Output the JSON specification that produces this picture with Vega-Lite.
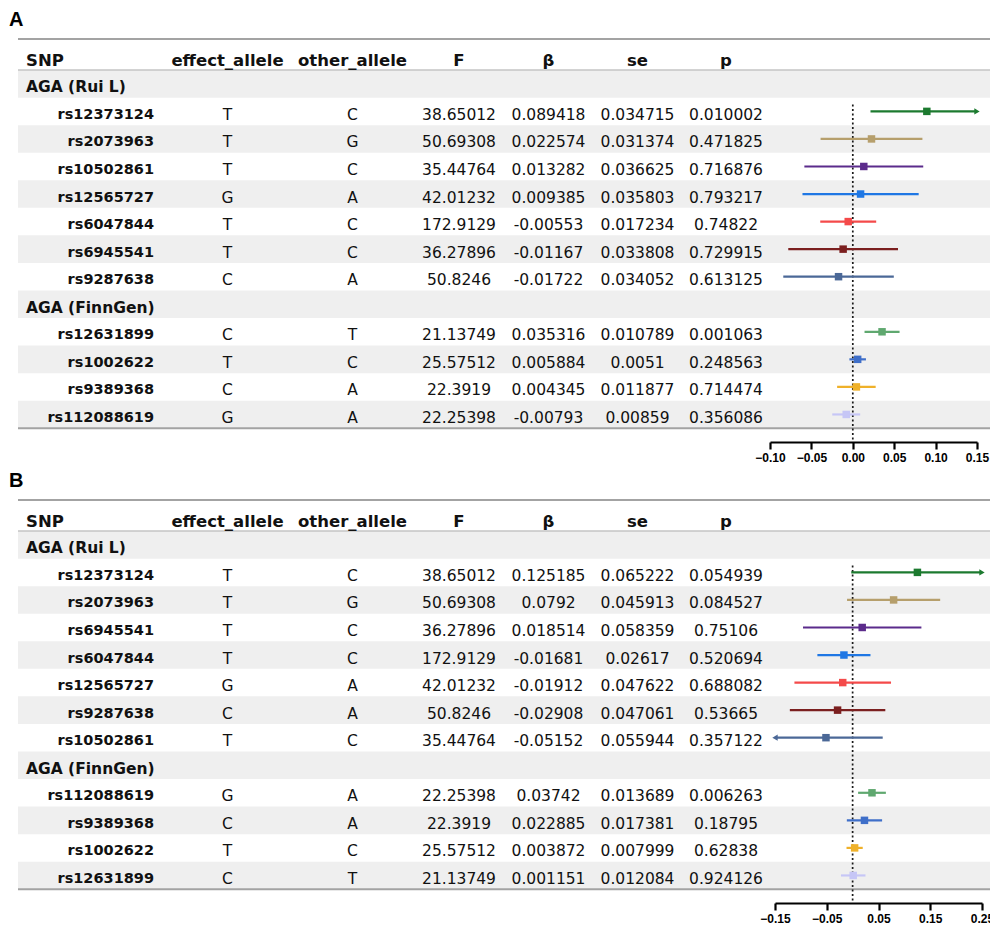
{
  "$schema": "https://vega.github.io/schema/vega-lite/v6.json",
  "background": "white",
  "padding": {"left": 9, "top": 10, "right": 0, "bottom": 0},
  "spacing": 8,
  "datasets": {
    "A": [
      {"row": 1, "group": "AGA (Rui L)"},
      {"row": 2, "SNP": "rs12373124", "effect_allele": "T", "other_allele": "C", "F": 38.65012, "beta": 0.089418, "se": 0.034715, "p": 0.010002, "lo": 0.021377, "hi": 0.157459},
      {"row": 3, "SNP": "rs2073963", "effect_allele": "T", "other_allele": "G", "F": 50.69308, "beta": 0.022574, "se": 0.031374, "p": 0.471825, "lo": -0.038919, "hi": 0.084067},
      {"row": 4, "SNP": "rs10502861", "effect_allele": "T", "other_allele": "C", "F": 35.44764, "beta": 0.013282, "se": 0.036625, "p": 0.716876, "lo": -0.058503, "hi": 0.085067},
      {"row": 5, "SNP": "rs12565727", "effect_allele": "G", "other_allele": "A", "F": 42.01232, "beta": 0.009385, "se": 0.035803, "p": 0.793217, "lo": -0.060789, "hi": 0.079559},
      {"row": 6, "SNP": "rs6047844", "effect_allele": "T", "other_allele": "C", "F": 172.9129, "beta": -0.00553, "se": 0.017234, "p": 0.74822, "lo": -0.039309, "hi": 0.028249},
      {"row": 7, "SNP": "rs6945541", "effect_allele": "T", "other_allele": "C", "F": 36.27896, "beta": -0.01167, "se": 0.033808, "p": 0.729915, "lo": -0.077934, "hi": 0.054594},
      {"row": 8, "SNP": "rs9287638", "effect_allele": "C", "other_allele": "A", "F": 50.8246, "beta": -0.01722, "se": 0.034052, "p": 0.613125, "lo": -0.083962, "hi": 0.049522},
      {"row": 9, "group": "AGA (FinnGen)"},
      {"row": 10, "SNP": "rs12631899", "effect_allele": "C", "other_allele": "T", "F": 21.13749, "beta": 0.035316, "se": 0.010789, "p": 0.001063, "lo": 0.01417, "hi": 0.056462},
      {"row": 11, "SNP": "rs1002622", "effect_allele": "T", "other_allele": "C", "F": 25.57512, "beta": 0.005884, "se": 0.0051, "p": 0.248563, "lo": -0.004112, "hi": 0.01588},
      {"row": 12, "SNP": "rs9389368", "effect_allele": "C", "other_allele": "A", "F": 22.3919, "beta": 0.004345, "se": 0.011877, "p": 0.714474, "lo": -0.018934, "hi": 0.027624},
      {"row": 13, "SNP": "rs112088619", "effect_allele": "G", "other_allele": "A", "F": 22.25398, "beta": -0.00793, "se": 0.00859, "p": 0.356086, "lo": -0.024766, "hi": 0.008906}
    ],
    "B": [
      {"row": 1, "group": "AGA (Rui L)"},
      {"row": 2, "SNP": "rs12373124", "effect_allele": "T", "other_allele": "C", "F": 38.65012, "beta": 0.125185, "se": 0.065222, "p": 0.054939, "lo": -0.00265, "hi": 0.25302},
      {"row": 3, "SNP": "rs2073963", "effect_allele": "T", "other_allele": "G", "F": 50.69308, "beta": 0.0792, "se": 0.045913, "p": 0.084527, "lo": -0.01079, "hi": 0.16919},
      {"row": 4, "SNP": "rs6945541", "effect_allele": "T", "other_allele": "C", "F": 36.27896, "beta": 0.018514, "se": 0.058359, "p": 0.75106, "lo": -0.09587, "hi": 0.132898},
      {"row": 5, "SNP": "rs6047844", "effect_allele": "T", "other_allele": "C", "F": 172.9129, "beta": -0.01681, "se": 0.02617, "p": 0.520694, "lo": -0.068103, "hi": 0.034483},
      {"row": 6, "SNP": "rs12565727", "effect_allele": "G", "other_allele": "A", "F": 42.01232, "beta": -0.01912, "se": 0.047622, "p": 0.688082, "lo": -0.112459, "hi": 0.074219},
      {"row": 7, "SNP": "rs9287638", "effect_allele": "C", "other_allele": "A", "F": 50.8246, "beta": -0.02908, "se": 0.047061, "p": 0.53665, "lo": -0.12132, "hi": 0.06316},
      {"row": 8, "SNP": "rs10502861", "effect_allele": "T", "other_allele": "C", "F": 35.44764, "beta": -0.05152, "se": 0.055944, "p": 0.357122, "lo": -0.16117, "hi": 0.05813},
      {"row": 9, "group": "AGA (FinnGen)"},
      {"row": 10, "SNP": "rs112088619", "effect_allele": "G", "other_allele": "A", "F": 22.25398, "beta": 0.03742, "se": 0.013689, "p": 0.006263, "lo": 0.01059, "hi": 0.06425},
      {"row": 11, "SNP": "rs9389368", "effect_allele": "C", "other_allele": "A", "F": 22.3919, "beta": 0.022885, "se": 0.017381, "p": 0.18795, "lo": -0.011182, "hi": 0.056952},
      {"row": 12, "SNP": "rs1002622", "effect_allele": "T", "other_allele": "C", "F": 25.57512, "beta": 0.003872, "se": 0.007999, "p": 0.62838, "lo": -0.011806, "hi": 0.01955},
      {"row": 13, "SNP": "rs12631899", "effect_allele": "C", "other_allele": "T", "F": 21.13749, "beta": 0.001151, "se": 0.012084, "p": 0.924126, "lo": -0.022534, "hi": 0.024836}
    ]
  },
  "vconcat": [
    {
      "title": {"text": "A", "anchor": "start", "fontSize": 20, "fontWeight": "bold", "dx": -8, "offset": 8, "color": "#000"},
      "spacing": 0,
      "bounds": "flush",
      "hconcat": [
        {"width": 146, "height": 403, "data": {"name": "A"}, "layer": [
          {"transform": [{"filter": "datum.row % 2 == 1"}], "mark": {"type": "rect", "color": "#efefef", "height": 27.6}, "encoding": {"y": {"field": "row", "type": "quantitative", "scale": {"domain": [-0.627, 14], "reverse": true, "nice": false, "zero": false}, "axis": null}}},
          {"data": {"values": [{}]}, "mark": {"type": "rule", "color": "#a3a3a3", "strokeWidth": 2}, "encoding": {"y": {"datum": -0.627, "type": "quantitative", "axis": null}}},
          {"data": {"values": [{}]}, "mark": {"type": "rule", "color": "#c4c4c4", "strokeWidth": 1.5}, "encoding": {"y": {"datum": 0.5, "type": "quantitative", "axis": null}}},
          {"data": {"values": [{}]}, "mark": {"type": "rule", "color": "#a3a3a3", "strokeWidth": 2}, "encoding": {"y": {"datum": 13.5, "type": "quantitative", "axis": null}}},
          {"data": {"values": [{"h": "SNP"}]}, "mark": {"type": "text", "align": "left", "dx": 8, "dy": 3.5, "fontWeight": "bold", "fontSize": 16.5}, "encoding": {"x": {"value": 0}, "y": {"datum": 0.05, "type": "quantitative", "axis": null}, "text": {"field": "h", "type": "nominal"}}},
          {"transform": [{"filter": "isValid(datum.group)"}], "mark": {"type": "text", "align": "left", "dx": 8, "dy": 3.5, "fontWeight": "bold", "fontSize": 15.5}, "encoding": {"x": {"value": 0}, "y": {"field": "row", "type": "quantitative", "axis": null}, "text": {"field": "group", "type": "nominal"}}},
          {"transform": [{"filter": "isValid(datum.SNP)"}], "mark": {"type": "text", "align": "right", "dx": -10, "dy": 3.5, "fontWeight": "bold", "fontSize": 14.5}, "encoding": {"x": {"value": "width"}, "y": {"field": "row", "type": "quantitative", "axis": null}, "text": {"field": "SNP", "type": "nominal"}}}
        ]},
        {"width": 127, "height": 403, "data": {"name": "A"}, "layer": [
          {"transform": [{"filter": "datum.row % 2 == 1"}], "mark": {"type": "rect", "color": "#efefef", "height": 27.6}, "encoding": {"y": {"field": "row", "type": "quantitative", "scale": {"domain": [-0.627, 14], "reverse": true, "nice": false, "zero": false}, "axis": null}}},
          {"data": {"values": [{}]}, "mark": {"type": "rule", "color": "#a3a3a3", "strokeWidth": 2}, "encoding": {"y": {"datum": -0.627, "type": "quantitative", "axis": null}}},
          {"data": {"values": [{}]}, "mark": {"type": "rule", "color": "#c4c4c4", "strokeWidth": 1.5}, "encoding": {"y": {"datum": 0.5, "type": "quantitative", "axis": null}}},
          {"data": {"values": [{}]}, "mark": {"type": "rule", "color": "#a3a3a3", "strokeWidth": 2}, "encoding": {"y": {"datum": 13.5, "type": "quantitative", "axis": null}}},
          {"data": {"values": [{"h": "effect_allele"}]}, "mark": {"type": "text", "dy": 3.5, "fontWeight": "bold", "fontSize": 16.5}, "encoding": {"y": {"datum": 0.05, "type": "quantitative", "axis": null}, "text": {"field": "h", "type": "nominal"}}},
          {"transform": [{"filter": "isValid(datum.SNP)"}], "mark": {"type": "text", "dy": 3.5, "fontSize": 15.5}, "encoding": {"y": {"field": "row", "type": "quantitative", "axis": null}, "text": {"field": "effect_allele", "type": "nominal"}}}
        ]},
        {"width": 123, "height": 403, "data": {"name": "A"}, "layer": [
          {"transform": [{"filter": "datum.row % 2 == 1"}], "mark": {"type": "rect", "color": "#efefef", "height": 27.6}, "encoding": {"y": {"field": "row", "type": "quantitative", "scale": {"domain": [-0.627, 14], "reverse": true, "nice": false, "zero": false}, "axis": null}}},
          {"data": {"values": [{}]}, "mark": {"type": "rule", "color": "#a3a3a3", "strokeWidth": 2}, "encoding": {"y": {"datum": -0.627, "type": "quantitative", "axis": null}}},
          {"data": {"values": [{}]}, "mark": {"type": "rule", "color": "#c4c4c4", "strokeWidth": 1.5}, "encoding": {"y": {"datum": 0.5, "type": "quantitative", "axis": null}}},
          {"data": {"values": [{}]}, "mark": {"type": "rule", "color": "#a3a3a3", "strokeWidth": 2}, "encoding": {"y": {"datum": 13.5, "type": "quantitative", "axis": null}}},
          {"data": {"values": [{"h": "other_allele"}]}, "mark": {"type": "text", "dy": 3.5, "fontWeight": "bold", "fontSize": 16.5}, "encoding": {"y": {"datum": 0.05, "type": "quantitative", "axis": null}, "text": {"field": "h", "type": "nominal"}}},
          {"transform": [{"filter": "isValid(datum.SNP)"}], "mark": {"type": "text", "dy": 3.5, "fontSize": 15.5}, "encoding": {"y": {"field": "row", "type": "quantitative", "axis": null}, "text": {"field": "other_allele", "type": "nominal"}}}
        ]},
        {"width": 90, "height": 403, "data": {"name": "A"}, "layer": [
          {"transform": [{"filter": "datum.row % 2 == 1"}], "mark": {"type": "rect", "color": "#efefef", "height": 27.6}, "encoding": {"y": {"field": "row", "type": "quantitative", "scale": {"domain": [-0.627, 14], "reverse": true, "nice": false, "zero": false}, "axis": null}}},
          {"data": {"values": [{}]}, "mark": {"type": "rule", "color": "#a3a3a3", "strokeWidth": 2}, "encoding": {"y": {"datum": -0.627, "type": "quantitative", "axis": null}}},
          {"data": {"values": [{}]}, "mark": {"type": "rule", "color": "#c4c4c4", "strokeWidth": 1.5}, "encoding": {"y": {"datum": 0.5, "type": "quantitative", "axis": null}}},
          {"data": {"values": [{}]}, "mark": {"type": "rule", "color": "#a3a3a3", "strokeWidth": 2}, "encoding": {"y": {"datum": 13.5, "type": "quantitative", "axis": null}}},
          {"data": {"values": [{"h": "F"}]}, "mark": {"type": "text", "dy": 3.5, "fontWeight": "bold", "fontSize": 16.5}, "encoding": {"y": {"datum": 0.05, "type": "quantitative", "axis": null}, "text": {"field": "h", "type": "nominal"}}},
          {"transform": [{"filter": "isValid(datum.SNP)"}], "mark": {"type": "text", "dy": 3.5, "fontSize": 15.5}, "encoding": {"y": {"field": "row", "type": "quantitative", "axis": null}, "text": {"field": "F", "type": "nominal"}}}
        ]},
        {"width": 89, "height": 403, "data": {"name": "A"}, "layer": [
          {"transform": [{"filter": "datum.row % 2 == 1"}], "mark": {"type": "rect", "color": "#efefef", "height": 27.6}, "encoding": {"y": {"field": "row", "type": "quantitative", "scale": {"domain": [-0.627, 14], "reverse": true, "nice": false, "zero": false}, "axis": null}}},
          {"data": {"values": [{}]}, "mark": {"type": "rule", "color": "#a3a3a3", "strokeWidth": 2}, "encoding": {"y": {"datum": -0.627, "type": "quantitative", "axis": null}}},
          {"data": {"values": [{}]}, "mark": {"type": "rule", "color": "#c4c4c4", "strokeWidth": 1.5}, "encoding": {"y": {"datum": 0.5, "type": "quantitative", "axis": null}}},
          {"data": {"values": [{}]}, "mark": {"type": "rule", "color": "#a3a3a3", "strokeWidth": 2}, "encoding": {"y": {"datum": 13.5, "type": "quantitative", "axis": null}}},
          {"data": {"values": [{"h": "β"}]}, "mark": {"type": "text", "dy": 3.5, "fontWeight": "bold", "fontSize": 16.5}, "encoding": {"y": {"datum": 0.05, "type": "quantitative", "axis": null}, "text": {"field": "h", "type": "nominal"}}},
          {"transform": [{"filter": "isValid(datum.SNP)"}], "mark": {"type": "text", "dy": 3.5, "fontSize": 15.5}, "encoding": {"y": {"field": "row", "type": "quantitative", "axis": null}, "text": {"field": "beta", "type": "nominal"}}}
        ]},
        {"width": 89, "height": 403, "data": {"name": "A"}, "layer": [
          {"transform": [{"filter": "datum.row % 2 == 1"}], "mark": {"type": "rect", "color": "#efefef", "height": 27.6}, "encoding": {"y": {"field": "row", "type": "quantitative", "scale": {"domain": [-0.627, 14], "reverse": true, "nice": false, "zero": false}, "axis": null}}},
          {"data": {"values": [{}]}, "mark": {"type": "rule", "color": "#a3a3a3", "strokeWidth": 2}, "encoding": {"y": {"datum": -0.627, "type": "quantitative", "axis": null}}},
          {"data": {"values": [{}]}, "mark": {"type": "rule", "color": "#c4c4c4", "strokeWidth": 1.5}, "encoding": {"y": {"datum": 0.5, "type": "quantitative", "axis": null}}},
          {"data": {"values": [{}]}, "mark": {"type": "rule", "color": "#a3a3a3", "strokeWidth": 2}, "encoding": {"y": {"datum": 13.5, "type": "quantitative", "axis": null}}},
          {"data": {"values": [{"h": "se"}]}, "mark": {"type": "text", "dy": 3.5, "fontWeight": "bold", "fontSize": 16.5}, "encoding": {"y": {"datum": 0.05, "type": "quantitative", "axis": null}, "text": {"field": "h", "type": "nominal"}}},
          {"transform": [{"filter": "isValid(datum.SNP)"}], "mark": {"type": "text", "dy": 3.5, "fontSize": 15.5}, "encoding": {"y": {"field": "row", "type": "quantitative", "axis": null}, "text": {"field": "se", "type": "nominal"}}}
        ]},
        {"width": 88, "height": 403, "data": {"name": "A"}, "layer": [
          {"transform": [{"filter": "datum.row % 2 == 1"}], "mark": {"type": "rect", "color": "#efefef", "height": 27.6}, "encoding": {"y": {"field": "row", "type": "quantitative", "scale": {"domain": [-0.627, 14], "reverse": true, "nice": false, "zero": false}, "axis": null}}},
          {"data": {"values": [{}]}, "mark": {"type": "rule", "color": "#a3a3a3", "strokeWidth": 2}, "encoding": {"y": {"datum": -0.627, "type": "quantitative", "axis": null}}},
          {"data": {"values": [{}]}, "mark": {"type": "rule", "color": "#c4c4c4", "strokeWidth": 1.5}, "encoding": {"y": {"datum": 0.5, "type": "quantitative", "axis": null}}},
          {"data": {"values": [{}]}, "mark": {"type": "rule", "color": "#a3a3a3", "strokeWidth": 2}, "encoding": {"y": {"datum": 13.5, "type": "quantitative", "axis": null}}},
          {"data": {"values": [{"h": "p"}]}, "mark": {"type": "text", "dy": 3.5, "fontWeight": "bold", "fontSize": 16.5}, "encoding": {"y": {"datum": 0.05, "type": "quantitative", "axis": null}, "text": {"field": "h", "type": "nominal"}}},
          {"transform": [{"filter": "isValid(datum.SNP)"}], "mark": {"type": "text", "dy": 3.5, "fontSize": 15.5}, "encoding": {"y": {"field": "row", "type": "quantitative", "axis": null}, "text": {"field": "p", "type": "nominal"}}}
        ]},
        {"width": 221, "height": 403, "data": {"name": "A"}, "layer": [
          {"transform": [{"filter": "datum.row % 2 == 1"}], "mark": {"type": "rect", "color": "#efefef", "height": 27.6}, "encoding": {"y": {"field": "row", "type": "quantitative", "scale": {"domain": [-0.627, 14], "reverse": true, "nice": false, "zero": false}, "axis": null}}},
          {"data": {"values": [{}]}, "mark": {"type": "rule", "color": "#a3a3a3", "strokeWidth": 2}, "encoding": {"y": {"datum": -0.627, "type": "quantitative", "axis": null}}},
          {"data": {"values": [{}]}, "mark": {"type": "rule", "color": "#c4c4c4", "strokeWidth": 1.5}, "encoding": {"y": {"datum": 0.5, "type": "quantitative", "axis": null}}},
          {"data": {"values": [{}]}, "mark": {"type": "rule", "color": "#a3a3a3", "strokeWidth": 2}, "encoding": {"y": {"datum": 13.5, "type": "quantitative", "axis": null}}},
          {"data": {"values": [{}]}, "mark": {"type": "rule", "color": "#1a1a1a", "strokeWidth": 1.7, "strokeDash": [2, 2.5]}, "encoding": {
            "x": {"datum": 0, "type": "quantitative", "scale": {"domain": [-0.1, 0.15], "range": [0, 207], "clamp": true, "nice": false, "zero": false},
                  "axis": {"values": [-0.1, -0.05, 0, 0.05, 0.1, 0.15], "format": ".2f", "title": null, "grid": false, "domainColor": "#000", "domainWidth": 2.2, "tickColor": "#000", "tickWidth": 2.2, "tickSize": 7, "labelFont": "Liberation Sans", "labelFontWeight": "bold", "labelFontSize": 12, "labelColor": "#000", "labelFlush": false, "labelPadding": 3, "labelOverlap": false}},
            "y": {"datum": 1.75, "type": "quantitative", "axis": null}, "y2": {"datum": 14}}},
          {"transform": [{"filter": "isValid(datum.SNP)"}], "mark": {"type": "rule", "strokeWidth": 2.2}, "encoding": {
            "x": {"field": "lo", "type": "quantitative", "title": null}, "x2": {"field": "hi"},
            "y": {"field": "row", "type": "quantitative", "axis": null},
            "color": {"field": "row", "type": "ordinal", "legend": null, "scale": {"domain": [2, 3, 4, 5, 6, 7, 8, 10, 11, 12, 13], "range": ["#1c7a2f", "#b69f6c", "#5b2b8b", "#1f77e4", "#f44a4a", "#7b1f1f", "#4b6897", "#5fa86f", "#3f6fc9", "#efb12a", "#c6c6f6"]}}}},
          {"transform": [{"filter": "isValid(datum.SNP)"}], "mark": {"type": "point", "shape": "square", "filled": true, "size": 56, "opacity": 1}, "encoding": {
            "x": {"field": "beta", "type": "quantitative", "title": null},
            "y": {"field": "row", "type": "quantitative", "axis": null},
            "color": {"field": "row", "type": "ordinal", "legend": null}}},
          {"transform": [{"filter": "datum.hi > 0.15"}], "mark": {"type": "point", "shape": "triangle-right", "filled": true, "size": 38, "opacity": 1}, "encoding": {
            "x": {"field": "hi", "type": "quantitative", "title": null},
            "y": {"field": "row", "type": "quantitative", "axis": null},
            "color": {"field": "row", "type": "ordinal", "legend": null}}}
        ]}
      ]
    },
    {
      "title": {"text": "B", "anchor": "start", "fontSize": 20, "fontWeight": "bold", "dx": -8, "offset": 8, "color": "#000"},
      "spacing": 0,
      "bounds": "flush",
      "hconcat": [
        {"width": 146, "height": 403, "data": {"name": "B"}, "layer": [
          {"transform": [{"filter": "datum.row % 2 == 1"}], "mark": {"type": "rect", "color": "#efefef", "height": 27.6}, "encoding": {"y": {"field": "row", "type": "quantitative", "scale": {"domain": [-0.627, 14], "reverse": true, "nice": false, "zero": false}, "axis": null}}},
          {"data": {"values": [{}]}, "mark": {"type": "rule", "color": "#a3a3a3", "strokeWidth": 2}, "encoding": {"y": {"datum": -0.627, "type": "quantitative", "axis": null}}},
          {"data": {"values": [{}]}, "mark": {"type": "rule", "color": "#c4c4c4", "strokeWidth": 1.5}, "encoding": {"y": {"datum": 0.5, "type": "quantitative", "axis": null}}},
          {"data": {"values": [{}]}, "mark": {"type": "rule", "color": "#a3a3a3", "strokeWidth": 2}, "encoding": {"y": {"datum": 13.5, "type": "quantitative", "axis": null}}},
          {"data": {"values": [{"h": "SNP"}]}, "mark": {"type": "text", "align": "left", "dx": 8, "dy": 3.5, "fontWeight": "bold", "fontSize": 16.5}, "encoding": {"x": {"value": 0}, "y": {"datum": 0.05, "type": "quantitative", "axis": null}, "text": {"field": "h", "type": "nominal"}}},
          {"transform": [{"filter": "isValid(datum.group)"}], "mark": {"type": "text", "align": "left", "dx": 8, "dy": 3.5, "fontWeight": "bold", "fontSize": 15.5}, "encoding": {"x": {"value": 0}, "y": {"field": "row", "type": "quantitative", "axis": null}, "text": {"field": "group", "type": "nominal"}}},
          {"transform": [{"filter": "isValid(datum.SNP)"}], "mark": {"type": "text", "align": "right", "dx": -10, "dy": 3.5, "fontWeight": "bold", "fontSize": 14.5}, "encoding": {"x": {"value": "width"}, "y": {"field": "row", "type": "quantitative", "axis": null}, "text": {"field": "SNP", "type": "nominal"}}}
        ]},
        {"width": 127, "height": 403, "data": {"name": "B"}, "layer": [
          {"transform": [{"filter": "datum.row % 2 == 1"}], "mark": {"type": "rect", "color": "#efefef", "height": 27.6}, "encoding": {"y": {"field": "row", "type": "quantitative", "scale": {"domain": [-0.627, 14], "reverse": true, "nice": false, "zero": false}, "axis": null}}},
          {"data": {"values": [{}]}, "mark": {"type": "rule", "color": "#a3a3a3", "strokeWidth": 2}, "encoding": {"y": {"datum": -0.627, "type": "quantitative", "axis": null}}},
          {"data": {"values": [{}]}, "mark": {"type": "rule", "color": "#c4c4c4", "strokeWidth": 1.5}, "encoding": {"y": {"datum": 0.5, "type": "quantitative", "axis": null}}},
          {"data": {"values": [{}]}, "mark": {"type": "rule", "color": "#a3a3a3", "strokeWidth": 2}, "encoding": {"y": {"datum": 13.5, "type": "quantitative", "axis": null}}},
          {"data": {"values": [{"h": "effect_allele"}]}, "mark": {"type": "text", "dy": 3.5, "fontWeight": "bold", "fontSize": 16.5}, "encoding": {"y": {"datum": 0.05, "type": "quantitative", "axis": null}, "text": {"field": "h", "type": "nominal"}}},
          {"transform": [{"filter": "isValid(datum.SNP)"}], "mark": {"type": "text", "dy": 3.5, "fontSize": 15.5}, "encoding": {"y": {"field": "row", "type": "quantitative", "axis": null}, "text": {"field": "effect_allele", "type": "nominal"}}}
        ]},
        {"width": 123, "height": 403, "data": {"name": "B"}, "layer": [
          {"transform": [{"filter": "datum.row % 2 == 1"}], "mark": {"type": "rect", "color": "#efefef", "height": 27.6}, "encoding": {"y": {"field": "row", "type": "quantitative", "scale": {"domain": [-0.627, 14], "reverse": true, "nice": false, "zero": false}, "axis": null}}},
          {"data": {"values": [{}]}, "mark": {"type": "rule", "color": "#a3a3a3", "strokeWidth": 2}, "encoding": {"y": {"datum": -0.627, "type": "quantitative", "axis": null}}},
          {"data": {"values": [{}]}, "mark": {"type": "rule", "color": "#c4c4c4", "strokeWidth": 1.5}, "encoding": {"y": {"datum": 0.5, "type": "quantitative", "axis": null}}},
          {"data": {"values": [{}]}, "mark": {"type": "rule", "color": "#a3a3a3", "strokeWidth": 2}, "encoding": {"y": {"datum": 13.5, "type": "quantitative", "axis": null}}},
          {"data": {"values": [{"h": "other_allele"}]}, "mark": {"type": "text", "dy": 3.5, "fontWeight": "bold", "fontSize": 16.5}, "encoding": {"y": {"datum": 0.05, "type": "quantitative", "axis": null}, "text": {"field": "h", "type": "nominal"}}},
          {"transform": [{"filter": "isValid(datum.SNP)"}], "mark": {"type": "text", "dy": 3.5, "fontSize": 15.5}, "encoding": {"y": {"field": "row", "type": "quantitative", "axis": null}, "text": {"field": "other_allele", "type": "nominal"}}}
        ]},
        {"width": 90, "height": 403, "data": {"name": "B"}, "layer": [
          {"transform": [{"filter": "datum.row % 2 == 1"}], "mark": {"type": "rect", "color": "#efefef", "height": 27.6}, "encoding": {"y": {"field": "row", "type": "quantitative", "scale": {"domain": [-0.627, 14], "reverse": true, "nice": false, "zero": false}, "axis": null}}},
          {"data": {"values": [{}]}, "mark": {"type": "rule", "color": "#a3a3a3", "strokeWidth": 2}, "encoding": {"y": {"datum": -0.627, "type": "quantitative", "axis": null}}},
          {"data": {"values": [{}]}, "mark": {"type": "rule", "color": "#c4c4c4", "strokeWidth": 1.5}, "encoding": {"y": {"datum": 0.5, "type": "quantitative", "axis": null}}},
          {"data": {"values": [{}]}, "mark": {"type": "rule", "color": "#a3a3a3", "strokeWidth": 2}, "encoding": {"y": {"datum": 13.5, "type": "quantitative", "axis": null}}},
          {"data": {"values": [{"h": "F"}]}, "mark": {"type": "text", "dy": 3.5, "fontWeight": "bold", "fontSize": 16.5}, "encoding": {"y": {"datum": 0.05, "type": "quantitative", "axis": null}, "text": {"field": "h", "type": "nominal"}}},
          {"transform": [{"filter": "isValid(datum.SNP)"}], "mark": {"type": "text", "dy": 3.5, "fontSize": 15.5}, "encoding": {"y": {"field": "row", "type": "quantitative", "axis": null}, "text": {"field": "F", "type": "nominal"}}}
        ]},
        {"width": 89, "height": 403, "data": {"name": "B"}, "layer": [
          {"transform": [{"filter": "datum.row % 2 == 1"}], "mark": {"type": "rect", "color": "#efefef", "height": 27.6}, "encoding": {"y": {"field": "row", "type": "quantitative", "scale": {"domain": [-0.627, 14], "reverse": true, "nice": false, "zero": false}, "axis": null}}},
          {"data": {"values": [{}]}, "mark": {"type": "rule", "color": "#a3a3a3", "strokeWidth": 2}, "encoding": {"y": {"datum": -0.627, "type": "quantitative", "axis": null}}},
          {"data": {"values": [{}]}, "mark": {"type": "rule", "color": "#c4c4c4", "strokeWidth": 1.5}, "encoding": {"y": {"datum": 0.5, "type": "quantitative", "axis": null}}},
          {"data": {"values": [{}]}, "mark": {"type": "rule", "color": "#a3a3a3", "strokeWidth": 2}, "encoding": {"y": {"datum": 13.5, "type": "quantitative", "axis": null}}},
          {"data": {"values": [{"h": "β"}]}, "mark": {"type": "text", "dy": 3.5, "fontWeight": "bold", "fontSize": 16.5}, "encoding": {"y": {"datum": 0.05, "type": "quantitative", "axis": null}, "text": {"field": "h", "type": "nominal"}}},
          {"transform": [{"filter": "isValid(datum.SNP)"}], "mark": {"type": "text", "dy": 3.5, "fontSize": 15.5}, "encoding": {"y": {"field": "row", "type": "quantitative", "axis": null}, "text": {"field": "beta", "type": "nominal"}}}
        ]},
        {"width": 89, "height": 403, "data": {"name": "B"}, "layer": [
          {"transform": [{"filter": "datum.row % 2 == 1"}], "mark": {"type": "rect", "color": "#efefef", "height": 27.6}, "encoding": {"y": {"field": "row", "type": "quantitative", "scale": {"domain": [-0.627, 14], "reverse": true, "nice": false, "zero": false}, "axis": null}}},
          {"data": {"values": [{}]}, "mark": {"type": "rule", "color": "#a3a3a3", "strokeWidth": 2}, "encoding": {"y": {"datum": -0.627, "type": "quantitative", "axis": null}}},
          {"data": {"values": [{}]}, "mark": {"type": "rule", "color": "#c4c4c4", "strokeWidth": 1.5}, "encoding": {"y": {"datum": 0.5, "type": "quantitative", "axis": null}}},
          {"data": {"values": [{}]}, "mark": {"type": "rule", "color": "#a3a3a3", "strokeWidth": 2}, "encoding": {"y": {"datum": 13.5, "type": "quantitative", "axis": null}}},
          {"data": {"values": [{"h": "se"}]}, "mark": {"type": "text", "dy": 3.5, "fontWeight": "bold", "fontSize": 16.5}, "encoding": {"y": {"datum": 0.05, "type": "quantitative", "axis": null}, "text": {"field": "h", "type": "nominal"}}},
          {"transform": [{"filter": "isValid(datum.SNP)"}], "mark": {"type": "text", "dy": 3.5, "fontSize": 15.5}, "encoding": {"y": {"field": "row", "type": "quantitative", "axis": null}, "text": {"field": "se", "type": "nominal"}}}
        ]},
        {"width": 88, "height": 403, "data": {"name": "B"}, "layer": [
          {"transform": [{"filter": "datum.row % 2 == 1"}], "mark": {"type": "rect", "color": "#efefef", "height": 27.6}, "encoding": {"y": {"field": "row", "type": "quantitative", "scale": {"domain": [-0.627, 14], "reverse": true, "nice": false, "zero": false}, "axis": null}}},
          {"data": {"values": [{}]}, "mark": {"type": "rule", "color": "#a3a3a3", "strokeWidth": 2}, "encoding": {"y": {"datum": -0.627, "type": "quantitative", "axis": null}}},
          {"data": {"values": [{}]}, "mark": {"type": "rule", "color": "#c4c4c4", "strokeWidth": 1.5}, "encoding": {"y": {"datum": 0.5, "type": "quantitative", "axis": null}}},
          {"data": {"values": [{}]}, "mark": {"type": "rule", "color": "#a3a3a3", "strokeWidth": 2}, "encoding": {"y": {"datum": 13.5, "type": "quantitative", "axis": null}}},
          {"data": {"values": [{"h": "p"}]}, "mark": {"type": "text", "dy": 3.5, "fontWeight": "bold", "fontSize": 16.5}, "encoding": {"y": {"datum": 0.05, "type": "quantitative", "axis": null}, "text": {"field": "h", "type": "nominal"}}},
          {"transform": [{"filter": "isValid(datum.SNP)"}], "mark": {"type": "text", "dy": 3.5, "fontSize": 15.5}, "encoding": {"y": {"field": "row", "type": "quantitative", "axis": null}, "text": {"field": "p", "type": "nominal"}}}
        ]},
        {"width": 221, "height": 403, "data": {"name": "B"}, "layer": [
          {"transform": [{"filter": "datum.row % 2 == 1"}], "mark": {"type": "rect", "color": "#efefef", "height": 27.6}, "encoding": {"y": {"field": "row", "type": "quantitative", "scale": {"domain": [-0.627, 14], "reverse": true, "nice": false, "zero": false}, "axis": null}}},
          {"data": {"values": [{}]}, "mark": {"type": "rule", "color": "#a3a3a3", "strokeWidth": 2}, "encoding": {"y": {"datum": -0.627, "type": "quantitative", "axis": null}}},
          {"data": {"values": [{}]}, "mark": {"type": "rule", "color": "#c4c4c4", "strokeWidth": 1.5}, "encoding": {"y": {"datum": 0.5, "type": "quantitative", "axis": null}}},
          {"data": {"values": [{}]}, "mark": {"type": "rule", "color": "#a3a3a3", "strokeWidth": 2}, "encoding": {"y": {"datum": 13.5, "type": "quantitative", "axis": null}}},
          {"data": {"values": [{}]}, "mark": {"type": "rule", "color": "#1a1a1a", "strokeWidth": 1.7, "strokeDash": [2, 2.5]}, "encoding": {
            "x": {"datum": 0, "type": "quantitative", "scale": {"domain": [-0.15, 0.25], "range": [5, 212], "clamp": true, "nice": false, "zero": false},
                  "axis": {"values": [-0.15, -0.05, 0.05, 0.15, 0.25], "format": ".2f", "title": null, "grid": false, "domainColor": "#000", "domainWidth": 2.2, "tickColor": "#000", "tickWidth": 2.2, "tickSize": 7, "labelFont": "Liberation Sans", "labelFontWeight": "bold", "labelFontSize": 12, "labelColor": "#000", "labelFlush": false, "labelPadding": 3, "labelOverlap": false}},
            "y": {"datum": 1.75, "type": "quantitative", "axis": null}, "y2": {"datum": 14}}},
          {"transform": [{"filter": "isValid(datum.SNP)"}], "mark": {"type": "rule", "strokeWidth": 2.2}, "encoding": {
            "x": {"field": "lo", "type": "quantitative", "title": null}, "x2": {"field": "hi"},
            "y": {"field": "row", "type": "quantitative", "axis": null},
            "color": {"field": "row", "type": "ordinal", "legend": null, "scale": {"domain": [2, 3, 4, 5, 6, 7, 8, 10, 11, 12, 13], "range": ["#1c7a2f", "#b69f6c", "#5b2b8b", "#1f77e4", "#f44a4a", "#7b1f1f", "#4b6897", "#5fa86f", "#3f6fc9", "#efb12a", "#c6c6f6"]}}}},
          {"transform": [{"filter": "isValid(datum.SNP)"}], "mark": {"type": "point", "shape": "square", "filled": true, "size": 56, "opacity": 1}, "encoding": {
            "x": {"field": "beta", "type": "quantitative", "title": null},
            "y": {"field": "row", "type": "quantitative", "axis": null},
            "color": {"field": "row", "type": "ordinal", "legend": null}}},
          {"transform": [{"filter": "datum.hi > 0.25"}], "mark": {"type": "point", "shape": "triangle-right", "filled": true, "size": 38, "opacity": 1}, "encoding": {
            "x": {"field": "hi", "type": "quantitative", "title": null},
            "y": {"field": "row", "type": "quantitative", "axis": null},
            "color": {"field": "row", "type": "ordinal", "legend": null}}},
          {"transform": [{"filter": "datum.lo < -0.15"}], "mark": {"type": "point", "shape": "triangle-left", "filled": true, "size": 38, "opacity": 1}, "encoding": {
            "x": {"field": "lo", "type": "quantitative", "title": null},
            "y": {"field": "row", "type": "quantitative", "axis": null},
            "color": {"field": "row", "type": "ordinal", "legend": null}}}
        ]}
      ]
    }
  ],
  "config": {
    "view": {"stroke": null},
    "font": "DejaVu Sans",
    "text": {"font": "DejaVu Sans", "color": "#111"},
    "title": {"font": "Liberation Sans"},
    "axis": {"labelFont": "Liberation Sans"},
    "axisY": {"disable": true}
  }
}
